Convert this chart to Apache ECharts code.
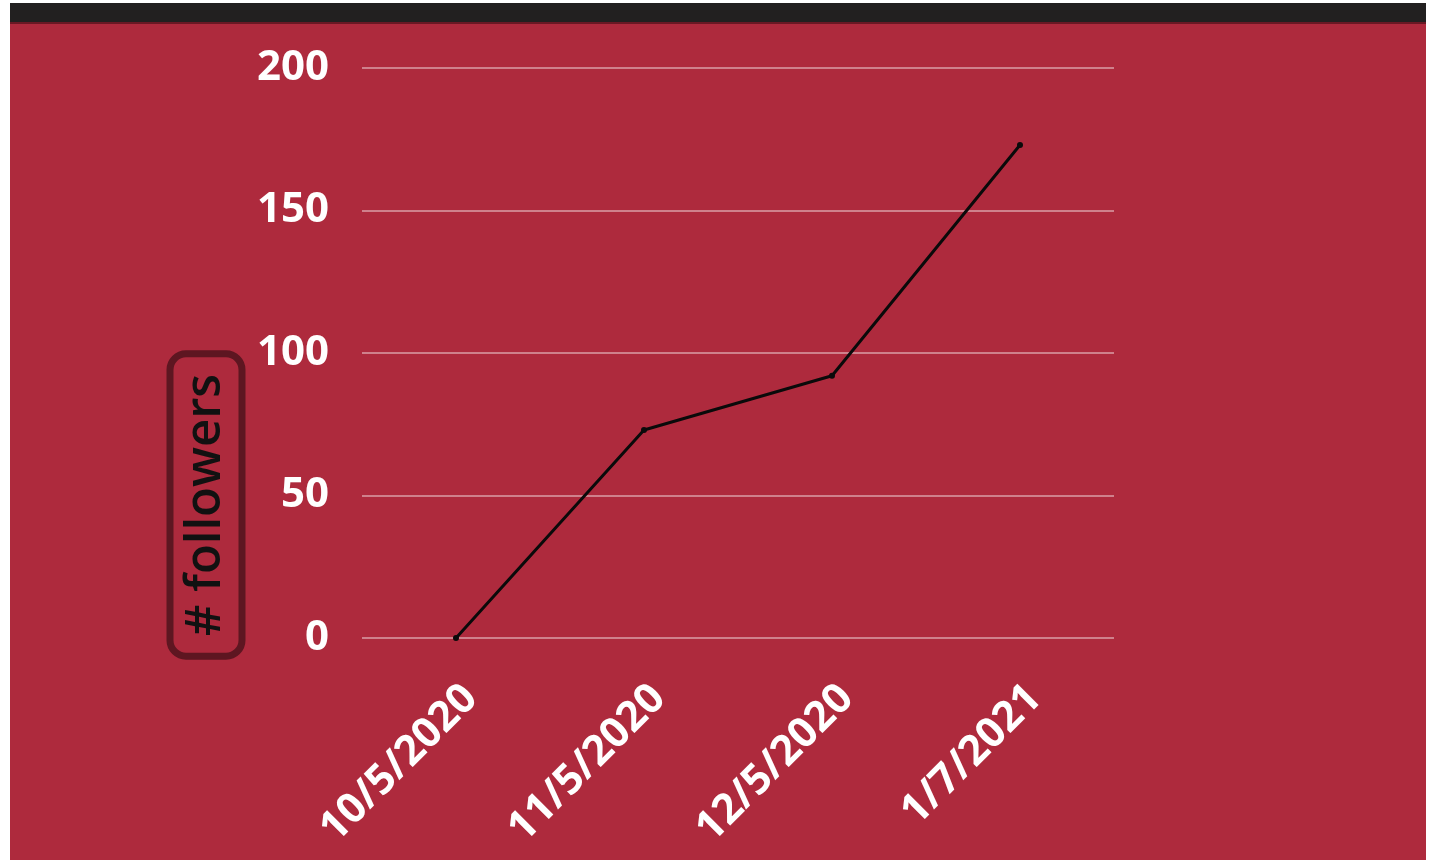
<!DOCTYPE html>
<html>
<head>
<meta charset="utf-8">
<script src="https://cdn.jsdelivr.net/npm/echarts@6/dist/echarts.min.js"></script>
<style>
html,body{margin:0;padding:0;background:#ffffff;}
#chart{width:1430px;height:860px;}
</style>
</head>
<body>
<div id="chart"></div>
<script>
const categories = ['10/5/2020', '11/5/2020', '12/5/2020', '1/7/2021'];
const followers = [0, 73, 92, 173];
const yTicks = [0, 50, 100, 150, 200];

const chart = echarts.init(document.getElementById('chart'), null, {renderer: 'canvas'});
chart.setOption({
  backgroundColor: '#ffffff',
  animation: false,
  graphic: [
    {type: 'rect', z: -10, shape: {x: 10, y: 3, width: 1416, height: 860}, style: {fill: '#ae2a3d'}},
    {type: 'rect', z: -9, shape: {x: 10, y: 3, width: 1416, height: 19}, style: {fill: '#222020'}},
    {type: 'rect', z: -9, shape: {x: 10, y: 22, width: 1416, height: 2}, style: {fill: '#6a1824'}},
    {
      type: 'text', z: 10,
      x: 206, y: 505, rotation: Math.PI / 2,
      style: {
        text: '# followers',
        font: '600 49px "Open Sans"',
        fill: '#111111',
        align: 'center', verticalAlign: 'middle',
        lineHeight: 56,
        padding: [8, 20, 8, 20],
        borderColor: '#5e1621',
        borderWidth: 7,
        borderRadius: 16
      }
    }
  ],
  grid: {left: 362, right: 316, top: 68, bottom: 222, containLabel: false},
  xAxis: {
    type: 'category',
    data: categories,
    boundaryGap: true,
    axisLine: {show: false},
    axisTick: {show: false},
    axisLabel: {
      rotate: 45,
      color: '#ffffff',
      fontFamily: 'Open Sans',
      fontWeight: 'bold',
      fontSize: 42,
      margin: 39,
      verticalAlign: 'top'
    }
  },
  yAxis: {
    type: 'value',
    min: yTicks[0],
    max: yTicks[yTicks.length - 1],
    interval: 50,
    axisLine: {show: false},
    axisTick: {show: false},
    axisLabel: {
      color: '#ffffff',
      fontFamily: 'Open Sans',
      fontWeight: 'bold',
      fontSize: 42,
      margin: 33
    },
    splitLine: {lineStyle: {color: 'rgba(255,255,255,0.55)', width: 1.5}}
  },
  series: [{
    type: 'line',
    data: followers,
    symbol: 'circle',
    symbolSize: 6,
    itemStyle: {color: '#0a0a0a'},
    lineStyle: {color: '#0a0a0a', width: 3}
  }]
});
</script>
</body>
</html>
